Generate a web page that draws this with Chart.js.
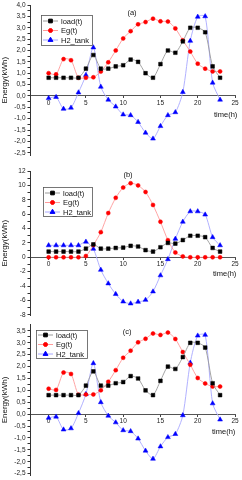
<!DOCTYPE html>
<html><head><meta charset="utf-8">
<script src="https://cdn.jsdelivr.net/npm/chart.js@4/dist/chart.umd.min.js"></script>
<style>
html,body{margin:0;padding:0;background:#fff;}
.p{position:absolute;left:0;width:242px;height:160px;}
canvas{display:block;}
</style></head><body>
<div class="p" style="top:0"><canvas id="ca" width="242" height="160"></canvas></div>
<div class="p" style="top:160px"><canvas id="cb" width="242" height="160"></canvas></div>
<div class="p" style="top:320px"><canvas id="cc" width="242" height="160"></canvas></div>
<script>
// ---- data ----
const hours = [0,1,2,3,4,5,6,7,8,9,10,11,12,13,14,15,16,17,18,19,20,21,22,23];
const xTicks = [0,5,10,15,20,25];
const seriesNames = ['load(t)','Eg(t)','H2_tank'];
const panelTitles = ['(a)','(b)','(c)'];

const loadA = [0.8,0.8,0.8,0.8,0.8,1.2,1.8,1.2,1.2,1.3,1.35,1.6,1.5,1.0,0.8,1.4,2.0,1.9,2.4,3.0,3.0,2.8,1.3,0.8];
const egA   = [1.0,0.95,1.62,1.57,0.8,0.8,0.82,1.07,1.48,2.0,2.53,2.85,3.15,3.25,3.4,3.28,3.27,2.97,2.45,1.95,1.42,1.2,1.08,1.08];
const h2A   = [-0.1,-0.05,-0.57,-0.52,0.15,0.92,2.13,0.4,-0.17,-0.47,-0.82,-0.85,-1.15,-1.62,-1.88,-1.33,-0.85,-0.72,0.17,2.42,3.48,3.5,0.58,-0.17];

const loadB = [0.8,0.8,0.8,0.8,0.8,1.2,1.8,1.2,1.2,1.3,1.35,1.6,1.5,1.0,0.8,1.4,2.0,1.9,2.4,3.0,3.0,2.8,1.3,0.8];
const egB   = [0,0,0,0,0,0.18,1.7,3.5,6.15,8.27,9.7,10.3,10.0,9.08,7.28,4.94,2.38,0.67,0.13,0,0,0,0,0];
const h2B   = [1.66,1.66,1.66,1.66,1.66,2.16,1.17,-1.75,-3.64,-5.12,-6.16,-6.43,-6.2,-5.93,-4.76,-2.52,-0.27,2.56,4.94,6.38,6.38,5.93,2.79,1.66];

const loadC = [0.8,0.8,0.8,0.8,0.8,1.2,1.8,1.2,1.2,1.3,1.35,1.6,1.5,1.0,0.8,1.4,2.0,1.9,2.4,3.0,3.0,2.8,1.3,0.8];
const egC   = [1.07,1.02,1.75,1.69,0.82,0.83,0.83,1.0,1.36,1.85,2.37,2.67,3.02,3.17,3.39,3.33,3.43,3.16,2.61,2.08,1.52,1.29,1.16,1.16];
const h2C   = [-0.16,-0.11,-0.65,-0.6,0.04,0.84,2.14,0.5,-0.07,-0.35,-0.68,-0.72,-1.03,-1.54,-1.88,-1.36,-0.97,-0.84,-0.05,2.16,3.3,3.33,0.45,-0.23];

const yTicksA = [-2.5,-2.0,-1.5,-1.0,-0.5,0.0,0.5,1.0,1.5,2.0,2.5,3.0,3.5,4.0];
const yTicksB = [-8,-6,-4,-2,0,2,4,6,8,10,12];
const yTicksC = [-2.5,-2.0,-1.5,-1.0,-0.5,0.0,0.5,1.0,1.5,2.0,2.5,3.0,3.5];

// ---- styles ----
const FONT = "'Liberation Sans', Arial, sans-serif";
const styles = [
  {line:'#9a9a9a', pt:'#000000', style:'rect', r:2.6},
  {line:'#ff9a9a', pt:'#ff0000', style:'circle', r:2.0},
  {line:'#a8a8ff', pt:'#0000ff', style:'triangle', r:2.8}
];

const decoPlugin = {
  id:'deco',
  afterDraw(chart, args, o){
    const ctx = chart.ctx;
    ctx.save();
    // panel title
    ctx.fillStyle = '#111';
    ctx.font = '7.5px ' + FONT;
    ctx.textAlign = 'center'; ctx.textBaseline = 'middle';
    ctx.fillText(o.title, o.titleX, o.titleY);
    // x axis title
    const y0 = chart.scales.y.getPixelForValue(0);
    ctx.textAlign = 'left';
    ctx.fillText('time(h)', o.timeX, y0 + o.timeDy);
    // legend
    const lx = o.legX, ly = o.legY;
    ctx.strokeStyle = '#555'; ctx.lineWidth = 0.8;
    ctx.strokeRect(lx + 0.5, ly + 0.5, o.legW, o.legH);
    chart.data.datasets.forEach((ds, i) => {
      const ry = ly + o.rowY0 + i * o.rowDy;
      ctx.strokeStyle = ds.borderColor; ctx.lineWidth = 1;
      ctx.beginPath(); ctx.moveTo(lx + 2, ry); ctx.lineTo(lx + 17, ry); ctx.stroke();
      ctx.fillStyle = ds.pointBackgroundColor; ctx.strokeStyle = ds.pointBorderColor;
      Chart.helpers.drawPoint(ctx, {pointStyle: ds.pointStyle, radius: ds.pointRadius, rotation: 0, borderWidth: 0.5}, lx + 9.5, ry);
      ctx.fillStyle = '#111';
      ctx.font = '7.5px ' + FONT;
      ctx.textAlign = 'left'; ctx.textBaseline = 'middle';
      ctx.fillText(ds.label, lx + 20, ry + 0.5);
    });
    ctx.restore();
  }
};

function makeChart(id, series, yTicks, yMin, yMax, minorStep, fmt, padTop, deco){
  const datasets = series.map((vals, i) => ({
    label: seriesNames[i],
    data: hours.map((h, k) => ({x: h, y: vals[k]})),
    borderColor: styles[i].line,
    borderWidth: 0.9,
    pointStyle: styles[i].style,
    pointRadius: styles[i].r,
    pointBackgroundColor: styles[i].pt,
    pointBorderColor: styles[i].pt,
    pointBorderWidth: 0.5,
    tension: 0.25,
    fill: false
  }));
  return new Chart(document.getElementById(id), {
    type: 'line',
    data: {datasets},
    plugins: [decoPlugin],
    options: {
      responsive: false, animation: false, devicePixelRatio: 1,
      layout: {padding: {top: padTop, right: 7, bottom: 0, left: 0}},
      plugins: {legend: {display: false}, tooltip: {enabled: false}, deco},
      scales: {
        x: {
          type: 'linear', min: -2.5, max: 25, position: {y: 0},
          afterBuildTicks: s => { s.ticks = xTicks.map(v => ({value: v})); },
          afterFit: s => { s.paddingLeft = 0; s.paddingRight = 0; },
          ticks: {font: {family: FONT, size: 6.5}, color: '#222', padding: 1, maxRotation: 0, autoSkip: false},
          grid: {drawOnChartArea: false, tickLength: 2, color: '#444'},
          border: {color: '#555', width: 1}
        },
        y: {
          type: 'linear', min: yMin, max: yMax,
          afterBuildTicks: s => {
            const t = yTicks.slice();
            for (let i = 0; i < yTicks.length - 1; i++) t.push((yTicks[i] + yTicks[i+1]) / 2);
            t.sort((a, b) => a - b);
            s.ticks = t.map(v => ({value: v}));
          },
          afterFit: s => { s.width = 30; s.paddingTop = 0; s.paddingBottom = 0; },
          ticks: {
            font: {family: FONT, size: 6.5}, color: '#222', padding: 2, autoSkip: false,
            callback: v => yTicks.some(m => Math.abs(m - v) < 1e-9) ? fmt(v) : ''
          },
          grid: {drawOnChartArea: false, tickLength: 2.5, color: '#333'},
          border: {color: '#333', width: 1},
          title: {display: true, text: 'Energy(kWh)', font: {family: FONT, size: 8}, color: '#111', padding: 0}
        }
      }
    }
  });
}

const fmtDec = v => v.toFixed(1).replace('.', ',');
const fmtInt = v => String(Math.round(v));

makeChart('ca', [loadA, egA, h2A], yTicksA, -2.62, 4.0, 0.25, fmtDec, 5,
  {title: panelTitles[0], titleX: 132, titleY: 13, timeX: 214, timeDy: 19,
   legX: 41, legY: 15, legW: 51, legH: 30, rowY0: 6, rowDy: 9.5});
makeChart('cb', [loadB, egB, h2B], yTicksB, -8.09, 12, 1, fmtInt, 11,
  {title: panelTitles[1], titleX: 128, titleY: 15, timeX: 213, timeDy: 17,
   legX: 43, legY: 27, legW: 49, legH: 29, rowY0: 6, rowDy: 9.5});
makeChart('cc', [loadC, egC, h2C], yTicksC, -2.58, 3.77, 0.25, fmtDec, 0,
  {title: panelTitles[2], titleX: 127, titleY: 12, timeX: 212, timeDy: 18,
   legX: 36, legY: 10, legW: 51, legH: 28, rowY0: 5, rowDy: 9.5});
</script>
</body></html>
